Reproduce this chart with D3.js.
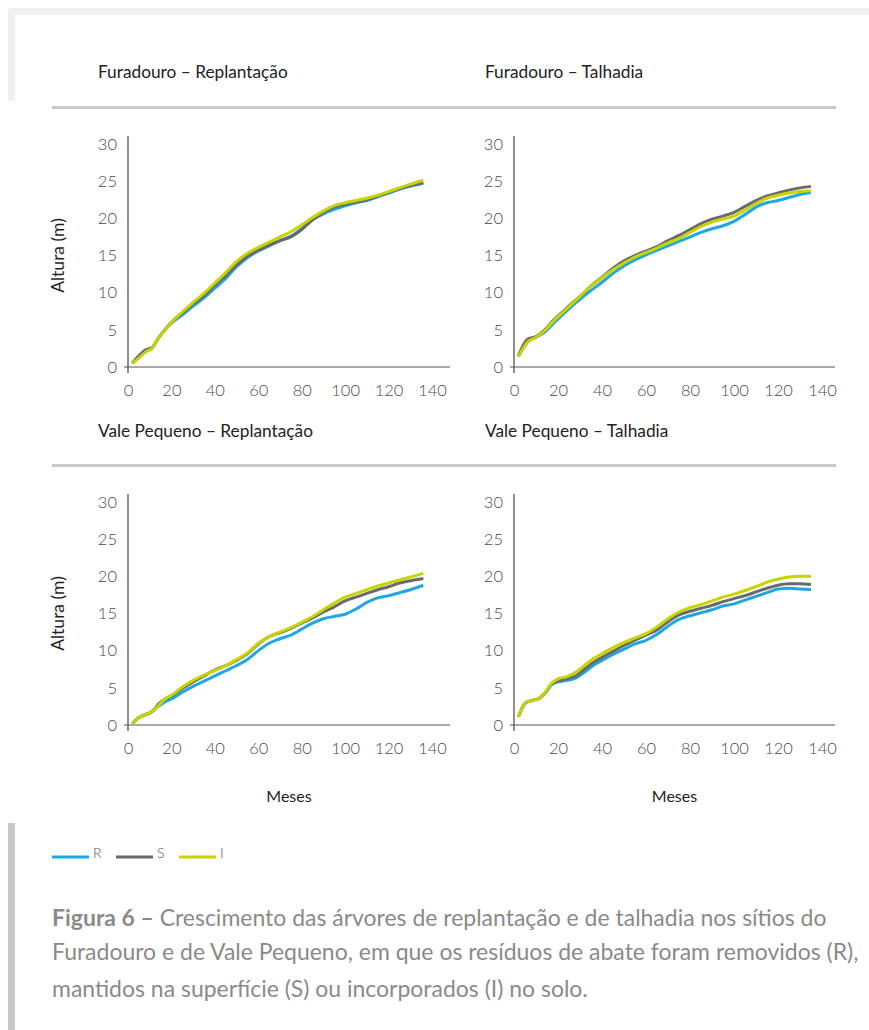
<!DOCTYPE html>
<html><head><meta charset="utf-8">
<script src="https://cdn.jsdelivr.net/npm/d3@7"></script>
<style>body{margin:0;background:#fff} svg{display:block} text{font-family:Lato,"Open Sans",sans-serif}</style>
</head><body><svg id="c" width="869" height="1030"></svg>
<script>
// ---------- data ----------
const seriesKeys = ["R", "S", "I"];
const seriesColors = ["#1ea7e1", "#6a6a6c", "#c8d400"];
const xTicks = [0, 20, 40, 60, 80, 100, 120, 140];
const yTicks = [0, 5, 10, 15, 20, 25, 30];
const panelTitles = ["Furadouro – Replantação", "Furadouro – Talhadia", "Vale Pequeno – Replantação", "Vale Pequeno – Talhadia"];
const yAxisTitle = "Altura (m)";
const xAxisTitle = "Meses";

// Furadouro – Replantação
const monthsFR = [2,5,8,11,14,17,20,25,30,35,40,45,50,55,60,65,70,75,80,85,90,95,100,105,110,115,120,125,130,136];
const FR_R = [0.5,1.4,2.2,2.5,3.9,5.0,5.9,7.0,8.2,9.3,10.6,11.9,13.5,14.7,15.6,16.3,17.0,17.6,18.6,19.8,20.6,21.2,21.7,22.1,22.4,22.9,23.4,23.9,24.3,24.7];
const FR_S = [0.5,1.5,2.3,2.6,3.9,5.0,6.0,7.3,8.5,9.6,11.0,12.3,13.7,14.9,15.7,16.4,17.0,17.5,18.5,19.8,20.8,21.5,21.9,22.2,22.5,23.0,23.5,24.0,24.4,24.8];
const FR_I = [0.5,1.2,2.0,2.5,3.9,5.0,6.0,7.4,8.7,9.9,11.3,12.7,14.2,15.3,16.1,16.8,17.5,18.2,19.1,20.1,21.0,21.7,22.1,22.4,22.7,23.1,23.6,24.1,24.6,25.1];

// Furadouro – Talhadia
const monthsFT = [2,6,10,14,18,22,26,30,35,40,45,50,55,60,65,70,75,80,85,90,95,100,105,110,115,120,125,130,135];
const FT_R = [1.4,3.3,4.0,4.7,5.9,7.0,8.1,9.1,10.3,11.4,12.6,13.6,14.4,15.1,15.7,16.3,16.9,17.5,18.1,18.6,19.0,19.6,20.5,21.5,22.1,22.4,22.8,23.2,23.5];
const FT_S = [1.5,3.7,4.1,5.0,6.3,7.4,8.5,9.5,10.9,12.1,13.3,14.3,15.0,15.6,16.2,17.0,17.7,18.5,19.3,19.9,20.3,20.8,21.6,22.4,23.0,23.4,23.8,24.1,24.3];
const FT_I = [1.4,3.3,4.0,4.9,6.2,7.3,8.4,9.5,10.9,12.0,13.1,14.0,14.8,15.4,16.0,16.7,17.3,18.1,18.9,19.5,19.9,20.3,21.1,22.0,22.7,23.1,23.4,23.6,23.7];

// Vale Pequeno – Replantação
const monthsVR = [2,5,8,11,14,17,20,25,30,35,40,45,50,55,60,65,70,75,80,85,90,95,100,105,110,115,120,125,130,136];
const VR_R = [0.2,1.0,1.4,1.8,2.5,3.1,3.5,4.4,5.2,5.9,6.6,7.3,8.0,8.8,10.0,11.0,11.6,12.1,12.9,13.7,14.3,14.6,14.9,15.6,16.5,17.1,17.4,17.8,18.2,18.8];
const VR_S = [0.2,1.0,1.4,1.8,2.8,3.5,3.9,4.9,5.8,6.6,7.4,8.0,8.7,9.6,10.9,11.9,12.4,13.0,13.7,14.4,15.2,15.9,16.7,17.2,17.7,18.2,18.6,19.1,19.4,19.7];
const VR_I = [0.2,1.0,1.4,1.8,2.6,3.5,4.0,5.1,6.0,6.7,7.3,8.0,8.8,9.7,11.0,11.9,12.5,13.1,13.8,14.6,15.5,16.4,17.2,17.7,18.2,18.7,19.1,19.5,19.9,20.4];

// Vale Pequeno – Talhadia
const monthsVT = [2,5,8,11,14,17,20,24,28,32,36,40,45,50,55,60,65,70,75,80,85,90,95,100,105,110,115,120,125,130,135];
const VT_R = [1.1,2.9,3.3,3.5,4.2,5.4,5.8,6.0,6.3,7.1,8.0,8.7,9.5,10.2,10.9,11.4,12.2,13.3,14.2,14.7,15.1,15.5,16.0,16.3,16.8,17.3,17.8,18.3,18.4,18.3,18.2];
const VT_S = [1.1,2.9,3.3,3.5,4.3,5.5,5.9,6.2,6.6,7.5,8.4,9.1,9.9,10.7,11.4,12.1,12.8,13.9,14.8,15.3,15.7,16.1,16.6,17.0,17.4,17.9,18.4,18.8,19.0,19.0,18.9];
const VT_I = [1.1,2.9,3.3,3.5,4.3,5.6,6.2,6.5,7.1,8.0,8.9,9.6,10.4,11.1,11.7,12.3,13.2,14.3,15.2,15.8,16.2,16.7,17.2,17.6,18.1,18.6,19.2,19.6,19.9,20.0,20.0];

const legendLabels = ["R", "S", "I"];
const captionBold = "Figura 6 –";
const captionLines = [
  " Crescimento das árvores de replantação e de talhadia nos sítios do",
  "Furadouro e de Vale Pequeno, em que os resíduos de abate foram removidos (R),",
  "mantidos na superfície (S) ou incorporados (I) no solo."
];

// ---------- drawing ----------
const svg = d3.select("#c");
svg.append("rect").attr("width", 869).attr("height", 1030).attr("fill", "#fff");
// frame decorations
svg.append("rect").attr("x", 8).attr("y", 8).attr("width", 861).attr("height", 7).attr("fill", "#f0f0f0");
svg.append("rect").attr("x", 8).attr("y", 8).attr("width", 7).attr("height", 93).attr("fill", "#f0f0f0");
svg.append("rect").attr("x", 8).attr("y", 823).attr("width", 7).attr("height", 207).attr("fill", "#c8c8c8");
// separating rules
[106, 464].forEach(y => svg.append("rect").attr("x", 52).attr("y", y).attr("width", 784).attr("height", 3).attr("fill", "#c9c9c9"));

const panels = [
  {title: panelTitles[0], months: monthsFR, vals: [FR_R, FR_S, FR_I], ax: 128, y0: 367, x140: 432, right: 450, tx: 98, ty: 78, yTitle: true, xTitle: false},
  {title: panelTitles[1], months: monthsFT, vals: [FT_R, FT_S, FT_I], ax: 514, y0: 367, x140: 822, right: 835, tx: 485, ty: 78, yTitle: false, xTitle: false},
  {title: panelTitles[2], months: monthsVR, vals: [VR_R, VR_S, VR_I], ax: 128, y0: 725, x140: 432, right: 450, tx: 98, ty: 437, yTitle: true, xTitle: true},
  {title: panelTitles[3], months: monthsVT, vals: [VT_R, VT_S, VT_I], ax: 514, y0: 725, x140: 822, right: 835, tx: 485, ty: 437, yTitle: false, xTitle: true}
];

const titleNodes = [];
panels.forEach(p => {
  const x = d3.scaleLinear().domain([0, 140]).range([p.ax, p.x140]);
  const y = d3.scaleLinear().domain([0, 30]).range([p.y0, p.y0 - 223]);
  const g = svg.append("g");

  titleNodes.push(g.append("text").attr("class", "ptitle").attr("x", p.tx).attr("y", p.ty)
    .attr("font-size", 15).attr("fill", "#222").text(p.title));

  // axes
  const ya = g.append("g").attr("transform", `translate(${p.ax},0)`)
    .call(d3.axisLeft(y).tickValues(yTicks).tickSize(0).tickPadding(11));
  const xa = g.append("g").attr("transform", `translate(0,${p.y0})`)
    .call(d3.axisBottom(x).tickValues(xTicks).tickSize(0).tickPadding(17));
  [ya, xa].forEach(a => {
    a.select(".domain").remove();
    a.selectAll("text").attr("font-size", 16.5).attr("font-weight", 300).attr("fill", "#4a4a4a")
      .style("font-family", "Lato, 'Open Sans', sans-serif");
  });
  g.append("line").attr("x1", p.ax).attr("x2", p.ax).attr("y1", p.y0 - 231).attr("y2", p.y0 + 6)
    .attr("stroke", "#333").attr("stroke-width", 1.1);
  g.append("line").attr("x1", p.ax - 4).attr("x2", p.right).attr("y1", p.y0).attr("y2", p.y0)
    .attr("stroke", "#555").attr("stroke-width", 1.1);

  // lines
  const line = d3.line().x(d => x(d[0])).y(d => y(d[1])).curve(d3.curveMonotoneX);
  p.vals.forEach((vs, i) => {
    const pts = p.months.map((m, j) => [m, vs[j]]);
    g.append("path").datum(pts).attr("d", line).attr("fill", "none")
      .attr("stroke", seriesColors[i]).attr("stroke-width", 3).attr("stroke-linejoin", "round").attr("stroke-linecap", "butt");
  });

  if (p.yTitle) {
    g.append("text").attr("transform", `translate(64,${(p.y0 + p.y0 - 223) / 2}) rotate(-90)`)
      .attr("text-anchor", "middle").attr("font-size", 17.5).attr("fill", "#1e1e1e").text(yAxisTitle);
  }
  if (p.xTitle) {
    g.append("text").attr("x", (p.ax + p.right) / 2).attr("y", 802).attr("text-anchor", "middle")
      .attr("font-size", 16).attr("fill", "#1e1e1e").text(xAxisTitle);
  }
});
// fit panel titles to the reference width of the first title
const tw = titleNodes[0].node().getComputedTextLength();
svg.selectAll("text.ptitle").attr("font-size", 15 * 190 / tw);

// legend
const legX = [52, 116, 179];
seriesKeys.forEach((k, i) => {
  svg.append("line").attr("x1", legX[i]).attr("x2", legX[i] + 37).attr("y1", 857).attr("y2", 857)
    .attr("stroke", seriesColors[i]).attr("stroke-width", 2.8);
  svg.append("text").attr("x", legX[i] + 41).attr("y", 858).attr("font-size", 14).attr("font-weight", 300)
    .attr("fill", "#555").text(legendLabels[i]);
});

// caption
const capY = [926, 960, 997];
const cap = svg.append("g");
captionLines.forEach((t, i) => {
  const tx = cap.append("text").attr("class", "cap").attr("x", 52).attr("y", capY[i]).attr("font-size", 19).attr("fill", "#8a8a8a");
  if (i === 0) tx.append("tspan").attr("font-weight", 700).text(captionBold);
  tx.append("tspan").text(t);
});
// fit first line to target width
const first = cap.select("text.cap").node();
const w = first.getComputedTextLength();
const fs = 19 * 775 / w;
cap.selectAll("text.cap").attr("font-size", fs);
</script></body></html>
